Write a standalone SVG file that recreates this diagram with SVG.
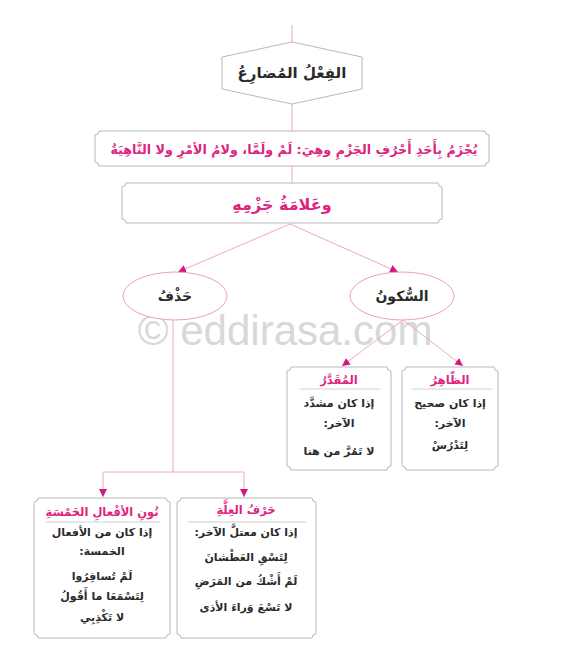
<svg xmlns="http://www.w3.org/2000/svg" width="568" height="655" viewBox="0 0 568 655">
<defs>
<marker id="arr" viewBox="0 0 10 10" refX="10" refY="5" markerWidth="8" markerHeight="8" markerUnits="userSpaceOnUse" orient="auto">
<path d="M0,0 L10,5 L0,10 Z" fill="#d6177f"/>
</marker>
</defs>
<style>
.box{fill:#fff;stroke:#b8b8b8;stroke-width:1}
.ell{fill:#fff;stroke:#ec9cc6;stroke-width:1}
.line{stroke:#f0a6cc;stroke-width:1;fill:none}
.arrow{stroke:#f0a6cc;stroke-width:1;fill:none;marker-end:url(#arr)}
.sep{stroke:#cfcfcf;stroke-width:1}
.t{font-family:"DejaVu Sans",sans-serif;font-weight:bold;text-anchor:middle;direction:rtl;fill:#2a2a2a}
.p{fill:#e0237f}
.wm{font-family:"Liberation Sans",Arial,sans-serif;font-size:42px;fill:#d8d8d8;text-anchor:middle}
</style>
<rect width="568" height="655" fill="#fff"/>
<text class="wm" x="285" y="345">© eddirasa.com</text>
<g id="connectors">
<line class="line" x1="292" y1="25" x2="292" y2="42"/>
<line class="line" x1="292" y1="104" x2="292" y2="131"/>
<line class="line" x1="292" y1="166" x2="292" y2="183"/>
<line class="arrow" x1="290" y1="224" x2="178" y2="272"/>
<line class="arrow" x1="290" y1="224" x2="398" y2="272"/>
<line class="arrow" x1="403" y1="320" x2="342" y2="366"/>
<line class="arrow" x1="403" y1="320" x2="463" y2="366"/>
<line class="line" x1="173" y1="320" x2="173" y2="472"/>
<line class="line" x1="103" y1="472" x2="244" y2="472"/>
<line class="arrow" x1="103" y1="472" x2="103" y2="497"/>
<line class="arrow" x1="244" y1="472" x2="244" y2="497"/>
</g>
<g id="n-mudari">
<polygon class="box" points="292,42 362,57 362,89 292,104 222,89 222,57"/>
<text class="t" x="292" y="78" font-size="15">الفِعْلُ المُضارِعُ</text>
</g>
<g id="n-jazm">
<path class="box" d="M99,131 H485 A4,4 0 0 0 489,135 V162 A4,4 0 0 0 485,166 H99 A4,4 0 0 0 95,162 V135 A4,4 0 0 0 99,131 Z"/>
<text class="t p" x="294" y="154" font-size="12.7">يُجْزَمُ بِأَحَدِ أَحْرُفِ الجَزْمِ وهِيَ: لَمْ ولَمَّا، ولامُ الأمْرِ ولا النَّاهِيَةُ</text>
</g>
<g id="n-alama">
<path class="box" d="M126,183 H438 A4,4 0 0 0 442,187 V219 A4,4 0 0 0 438,223 H126 A4,4 0 0 0 122,219 V187 A4,4 0 0 0 126,183 Z"/>
<text class="t p" x="282" y="210" font-size="16">وعَلامَةُ جَزْمِهِ</text>
</g>
<g id="n-hadhf">
<ellipse class="ell" cx="175" cy="296" rx="52" ry="24"/>
<text class="t" x="175" y="301" font-size="14">حَذْفُ</text>
</g>
<g id="n-sukun">
<ellipse class="ell" cx="402" cy="296" rx="52" ry="24"/>
<text class="t" x="402" y="301" font-size="14">السُّكونُ</text>
</g>
<g id="n-muqaddar">
<path class="box" d="M291,367 H387 A4,4 0 0 0 391,371 V466 A4,4 0 0 0 387,470 H291 A4,4 0 0 0 287,466 V371 A4,4 0 0 0 291,367 Z"/>
<text class="t p" x="339" y="384" font-size="11.5">المُقَدَّرُ</text>
<line class="sep" x1="300" y1="389" x2="380" y2="389"/>
<text class="t" x="339" y="407" font-size="11">إذا كان مشدَّد</text>
<text class="t" x="339" y="427" font-size="11">الآخر:</text>
<text class="t" x="339" y="455" font-size="11">لا تَمُرَّ من هنا</text>
</g>
<g id="n-zahir">
<path class="box" d="M406,367 H494 A4,4 0 0 0 498,371 V466 A4,4 0 0 0 494,470 H406 A4,4 0 0 0 402,466 V371 A4,4 0 0 0 406,367 Z"/>
<text class="t p" x="450" y="384" font-size="11.5">الظّاهِرُ</text>
<line class="sep" x1="412" y1="389" x2="492" y2="389"/>
<text class="t" x="450" y="407" font-size="11">إذا كان صحيح</text>
<text class="t" x="450" y="427" font-size="11">الآخر:</text>
<text class="t" x="450" y="449" font-size="11">لِتَدْرُسْ</text>
</g>
<g id="n-nun">
<path class="box" d="M38,498 H166 A4,4 0 0 0 170,502 V634 A4,4 0 0 0 166,638 H38 A4,4 0 0 0 34,634 V502 A4,4 0 0 0 38,498 Z"/>
<text class="t p" x="102" y="516" font-size="11.5">نُونِ الأفْعالِ الخَمْسَةِ</text>
<line class="sep" x1="46" y1="522" x2="160" y2="522"/>
<text class="t" x="102" y="536" font-size="11">إذا كان من الأفعال</text>
<text class="t" x="102" y="555" font-size="11">الخمسة:</text>
<text class="t" x="102" y="580" font-size="11">لَمْ تُسافِرُوا</text>
<text class="t" x="102" y="600" font-size="11">لِتَسْمَعَا ما أَقُولُ</text>
<text class="t" x="102" y="621" font-size="11">لا تَكْذِبِي</text>
</g>
<g id="n-illa">
<path class="box" d="M181,498 H312 A4,4 0 0 0 316,502 V634 A4,4 0 0 0 312,638 H181 A4,4 0 0 0 177,634 V502 A4,4 0 0 0 181,498 Z"/>
<text class="t p" x="246" y="514" font-size="11.5">حَرْفُ العِلَّةِ</text>
<line class="sep" x1="188" y1="522" x2="306" y2="522"/>
<text class="t" x="246" y="536" font-size="11">إذا كان معتلَّ الآخر:</text>
<text class="t" x="246" y="561" font-size="11">لِتَسْقِ العَطْشانَ</text>
<text class="t" x="246" y="585" font-size="11">لَمْ أَشْكُ من المَرَضِ</text>
<text class="t" x="246" y="611" font-size="11">لا تَسْعَ وَراءَ الأذى</text>
</g>
</svg>
